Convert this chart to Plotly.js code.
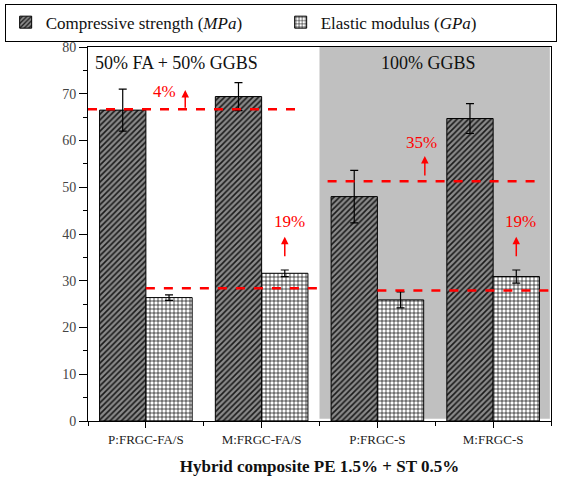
<!DOCTYPE html>
<html><head><meta charset="utf-8">
<script src="https://cdn.plot.ly/plotly-3.0.1.min.js"></script>
<style>html,body{margin:0;padding:0;background:#fff}#chart{width:588px;height:486px}</style>
</head><body><div id="chart"></div>
<script>
// Data
var categories = ['P:FRGC-FA/S', 'M:FRGC-FA/S', 'P:FRGC-S', 'M:FRGC-S'];
var compressive = [66.5, 69.4, 48.0, 64.7];
var compressiveErr = [4.5, 3.0, 5.6, 3.2];
var elastic = [26.4, 31.6, 25.9, 30.9];
var elasticErr = [0.6, 0.7, 1.7, 1.4];
// reference (dashed) lines: value, start category pos, end category pos
var refValues = [66.7, 28.4, 51.3, 27.9];
var refStart = [-0.5, 0.0, 1.57, 2.0];
var refEnd = [1.3, 1.49, 3.37, 3.5];
// increase labels
var incLabels = ['4%', '19%', '35%', '19%'];
var incArrowX = [0.34, 1.2, 2.41, 3.2];
var incArrowFrom = [66.7, 34.9, 52.2, 34.9];
var incArrowTo = [70.8, 39.4, 56.7, 39.4];
var incLabelX = [0.16, 1.24, 2.385, 3.24];
var incLabelY = [70.4, 42.6, 59.5, 42.6];
var groupLabels = ['50% FA + 50% GGBS', '100% GGBS'];

var xpos = categories.map(function(_, i){ return i; });
var serif = 'Liberation Serif';

var traces = [
  {type:'bar', name:'Compressive strength (<i>MPa</i>)', x:xpos, y:compressive,
   error_y:{type:'data', array:compressiveErr, visible:true, color:'#000', thickness:1.2, width:4},
   marker:{color:'#8a8a8a', line:{color:'#000', width:1},
     pattern:{shape:'/', bgcolor:'#8a8a8a', fgcolor:'#1a1a1a', size:4, solidity:0.4}}},
  {type:'bar', name:'Elastic modulus (<i>GPa</i>)', x:xpos, y:elastic,
   error_y:{type:'data', array:elasticErr, visible:true, color:'#000', thickness:1.2, width:4},
   marker:{color:'#ffffff', line:{color:'#000', width:1},
     pattern:{shape:'+', bgcolor:'#ffffff', fgcolor:'#000', size:4, solidity:0.3}}}
];

var shapes = [{type:'rect', xref:'x', yref:'y', x0:1.5, x1:3.49, y0:0.5, y1:80,
  fillcolor:'#c0c0c0', line:{width:0}, layer:'below'}];
refValues.forEach(function(v, i){
  shapes.push({type:'line', xref:'x', yref:'y', x0:refStart[i], x1:refEnd[i], y0:v, y1:v,
    line:{color:'#ff0000', width:2.5, dash:'dash'}, layer:'above'});
});

var annotations = [];
incLabels.forEach(function(t, i){
  annotations.push({x:incArrowX[i], y:incArrowTo[i], ax:incArrowX[i], ay:incArrowFrom[i],
    axref:'x', ayref:'y', xref:'x', yref:'y', text:'', showarrow:true,
    arrowhead:2, arrowsize:1, arrowwidth:1.5, arrowcolor:'#ff0000'});
  annotations.push({x:incLabelX[i], y:incLabelY[i], xref:'x', yref:'y', text:t, showarrow:false,
    font:{family:serif, size:17, color:'#ff0000'}});
});
annotations.push({x:0.011, xref:'paper', y:76.6, yref:'y', xanchor:'left', text:groupLabels[0],
  showarrow:false, font:{family:serif, size:18, color:'#111'}});
annotations.push({x:2.44, xref:'x', y:76.6, yref:'y', text:groupLabels[1],
  showarrow:false, font:{family:serif, size:18, color:'#111'}});

var layout = {
  width:588, height:486,
  margin:{l:88, r:37, t:47, b:65, autoexpand:false},
  paper_bgcolor:'#fff', plot_bgcolor:'#fff',
  barmode:'group', bargap:0.2, bargroupgap:0,
  font:{family:serif, color:'#222'},
  showlegend:true,
  legend:{orientation:'h', x:-0.18, y:1.116, xanchor:'left', yanchor:'top',
    bordercolor:'#000', borderwidth:1, bgcolor:'#fff', entrywidth:230, entrywidthmode:'pixels',
    font:{family:serif, size:17, color:'#111'}, traceorder:'normal'},
  xaxis:{range:[-0.5, 3.5], tickmode:'array', tickvals:xpos, ticktext:categories,
    showline:true, linecolor:'#000', linewidth:1, mirror:true, ticks:'outside', ticklen:6, tickcolor:'#000',
    minor:{tickmode:'linear', tick0:0.5, dtick:1, ticks:'outside', ticklen:4, tickcolor:'#000'},
    showgrid:false, zeroline:false, tickfont:{family:serif, size:13, color:'#222'},
    title:{text:'<b>Hybrid composite PE 1.5% + ST 0.5%</b>', font:{family:serif, size:17, color:'#111'}, standoff:14}},
  yaxis:{range:[0, 80], dtick:10, showline:true, linecolor:'#000', linewidth:1, mirror:true,
    ticks:'outside', ticklen:8, tickcolor:'#000',
    minor:{dtick:5, ticks:'outside', ticklen:4, tickcolor:'#000'},
    showgrid:false, zeroline:false, tickfont:{family:serif, size:14, color:'#444'}},
  shapes:shapes, annotations:annotations
};
Plotly.newPlot('chart', traces, layout, {displayModeBar:false, staticPlot:true});
</script></body></html>
